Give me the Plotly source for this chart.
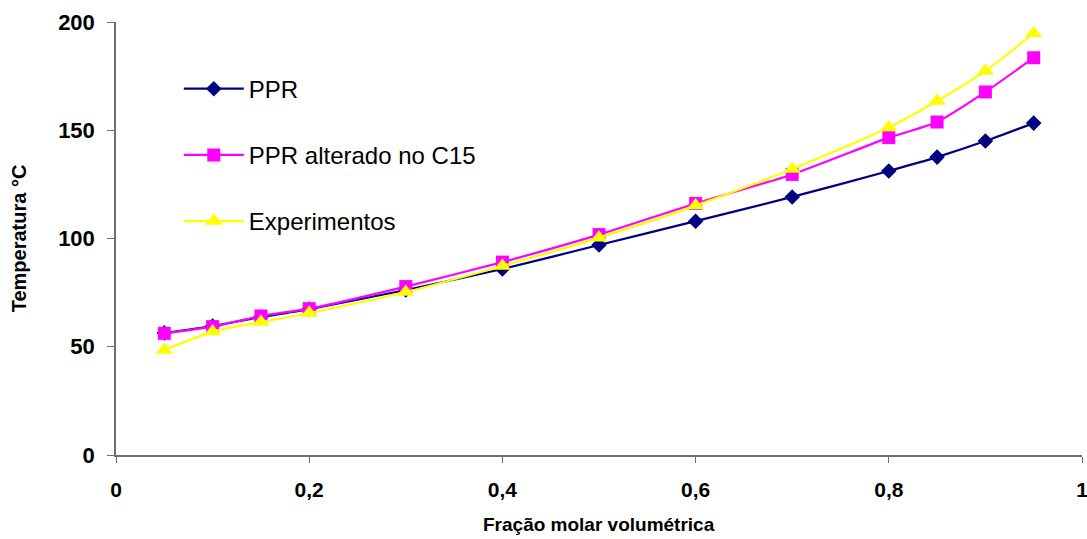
import plotly.graph_objects as go

x = [0.05, 0.1, 0.15, 0.2, 0.3, 0.4, 0.5, 0.6, 0.7, 0.8, 0.85, 0.9, 0.95]
ppr = [56.4, 59.6, 63.7, 67.4, 76.2, 85.9, 97.0, 108.0, 119.2, 131.2, 137.6, 145.0, 153.3]
ppr_c15 = [56.2, 59.3, 64.2, 67.6, 77.8, 89.1, 101.8, 116.2, 129.6, 146.6, 153.8, 167.7, 183.5]
experimentos = [48.5, 57.0, 61.4, 65.6, 75.3, 87.3, 100.4, 115.2, 132.1, 151.3, 163.5, 177.4, 194.8]

x_tickvals = [0, 0.2, 0.4, 0.6, 0.8, 1]
x_ticklabels = ["0", "0,2", "0,4", "0,6", "0,8", "1"]
y_tickvals = [0, 50, 100, 150, 200]
y_ticklabels = ["0", "50", "100", "150", "200"]

series = [
    ("PPR", ppr, "#000080", "diamond", 12),
    ("PPR alterado no C15", ppr_c15, "#FF00FF", "square", 13),
    ("Experimentos", experimentos, "#FFFF00", "triangle-up", 15),
]

FONT = "Liberation Sans, Arial, sans-serif"
AXIS = "#6e6e6e"

fig = go.Figure()
for i, (name, ys, color, sym, sz) in enumerate(series):
    fig.add_trace(go.Scatter(
        x=x, y=ys, name=name, mode="lines+markers",
        line=dict(color=color, width=2.2, shape="spline", smoothing=0.6),
        marker=dict(symbol=sym, size=sz, color=color),
        legendgroup=f"g{i}",
    ))

fig.update_layout(
    width=1087, height=539,
    margin=dict(l=116, r=5, t=22, b=84),
    paper_bgcolor="white", plot_bgcolor="white",
    font=dict(family=FONT, color="black"),
    showlegend=True,
    legend=dict(
        x=0.065, y=0.897, xanchor="left", yanchor="top",
        bgcolor="rgba(0,0,0,0)",
        font=dict(size=24, family=FONT, color="black"),
        tracegroupgap=32, itemwidth=60,
    ),
    xaxis=dict(
        range=[0, 1], tickvals=x_tickvals,
        ticktext=[f"<b>{t}</b>" for t in x_ticklabels],
        showgrid=False, zeroline=False, showline=True, linecolor=AXIS, linewidth=1.8,
        ticks="outside", ticklen=6, tickcolor=AXIS, ticklabelstandoff=9,
        ticklabeloverflow="allow", automargin=False,
        tickfont=dict(size=21, family=FONT, color="black"),
    ),
    yaxis=dict(
        range=[0, 200], tickvals=y_tickvals,
        ticktext=[f"<b>{t}</b>" for t in y_ticklabels],
        showgrid=False, zeroline=False, showline=True, linecolor=AXIS, linewidth=1.5,
        ticks="outside", ticklen=7, tickcolor=AXIS, ticklabelstandoff=8,
        ticklabeloverflow="allow", automargin="left",
        tickfont=dict(size=22, family=FONT, color="black"),
        title=dict(text="<b>Temperatura °C</b>", standoff=26,
                   font=dict(size=20, family=FONT, color="black")),
    ),
    annotations=[dict(
        text="<b>Fração molar volumétrica</b>", xref="paper", yref="paper",
        x=0.5, y=-0.19, xanchor="center", yanchor="bottom", showarrow=False,
        font=dict(size=19, family=FONT, color="black"),
    )],
)

fig.write_html("out.html")
